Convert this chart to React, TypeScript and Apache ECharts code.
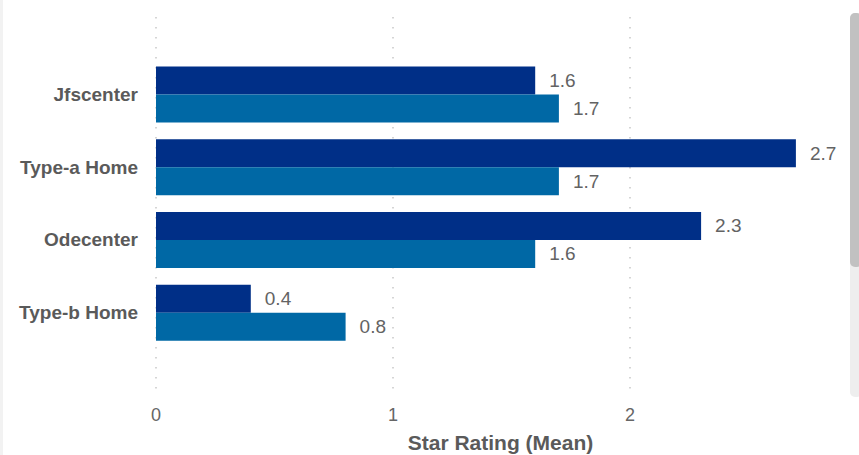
import React, { useEffect, useRef } from "react";
import * as echarts from "echarts";

const categories = ["Jfscenter", "Type-a Home", "Odecenter", "Type-b Home"];
const seriesA = [1.6, 2.7, 2.3, 0.4];
const seriesB = [1.7, 1.7, 1.6, 0.8];
const xTicks = [0, 1, 2, 3];
const axisTitle = "Star Rating (Mean)";

export default function App() {
  const ref = useRef<HTMLDivElement>(null);
  useEffect(() => {
    document.body.style.margin = "0";
    const chart = echarts.init(ref.current!, null, { renderer: "svg" });
    const font = "'Liberation Sans', Arial, sans-serif";
    const xMin = xTicks[0];
    const xMax = xTicks[xTicks.length - 1];
    const valueLabel = {
      show: true,
      position: "right",
      distance: 14,
      color: "#636363",
      fontSize: 19,
      fontFamily: font,
      formatter: (p: any) => p.value.toFixed(1),
    };
    chart.setOption({
      animation: false,
      backgroundColor: "#ffffff",
      graphic: [
        { type: "rect", shape: { x: 0, y: 0, width: 3, height: 455 }, style: { fill: "#f2f2f2" }, silent: true },
        { type: "rect", shape: { x: 850, y: 13, width: 12, height: 384, r: 5 }, style: { fill: "#eeeeee" }, silent: true },
        { type: "rect", shape: { x: 850, y: 13, width: 12, height: 254, r: 5 }, style: { fill: "#c1c1c1" }, silent: true },
      ],
      grid: [
        { left: 156, width: 711, top: 17, height: 378, outerBoundsMode: "none", containLabel: false },
        { left: 156, width: 711, top: 58, height: 291, outerBoundsMode: "none", containLabel: false },
      ],
      xAxis: [
        {
          type: "value",
          gridIndex: 0,
          min: xMin,
          max: xMax,
          interval: 1,
          axisLine: { show: false },
          axisTick: { show: false },
          axisLabel: { color: "#666666", fontSize: 18, fontFamily: font, margin: 11, showMaxLabel: false },
          splitLine: { show: true, lineStyle: { color: "#c8c8c8", width: 1.5, type: [1.5, 8.5] } },
          name: axisTitle,
          nameLocation: "middle",
          nameGap: 37,
          nameTextStyle: { color: "#5a5a5a", fontSize: 21, fontWeight: "bold", fontFamily: font, padding: [0, 22, 0, 0] },
        },
        {
          type: "value",
          gridIndex: 1,
          min: xMin,
          max: xMax,
          interval: 1,
          show: false,
          splitLine: { show: false },
        },
      ],
      yAxis: [
        { type: "value", gridIndex: 0, min: 0, max: 1, show: false, splitLine: { show: false } },
        {
          type: "category",
          gridIndex: 1,
          data: categories,
          inverse: true,
          axisLine: { show: false },
          axisTick: { show: false },
          axisLabel: { color: "#5a5a5a", fontSize: 19, fontWeight: "bold", fontFamily: font, margin: 18 },
        },
      ],
      series: [
        {
          type: "bar",
          xAxisIndex: 1,
          yAxisIndex: 1,
          data: seriesA,
          barWidth: 28,
          barGap: "0%",
          itemStyle: { color: "#002f87" },
          label: valueLabel,
        },
        {
          type: "bar",
          xAxisIndex: 1,
          yAxisIndex: 1,
          data: seriesB,
          barWidth: 28,
          barGap: "0%",
          itemStyle: { color: "#0068a5" },
          label: valueLabel,
        },
      ],
    });
    return () => chart.dispose();
  }, []);
  return <div ref={ref} style={{ width: 859, height: 455 }} />;
}
